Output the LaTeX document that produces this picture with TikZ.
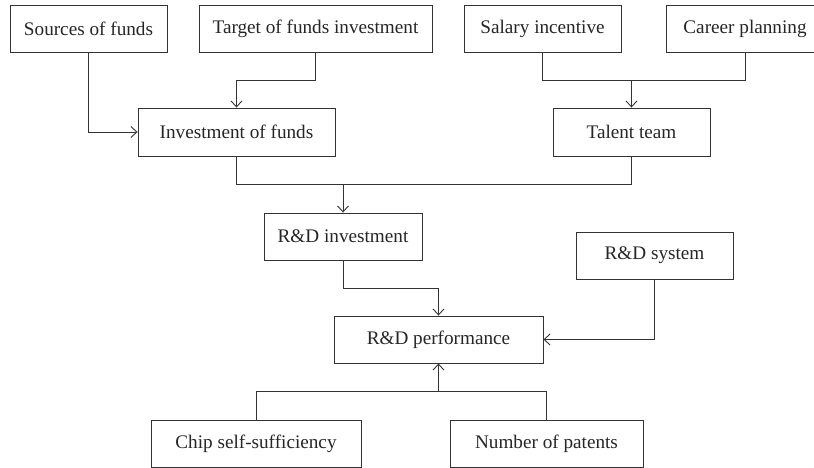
\documentclass[tikz,border=0pt]{standalone}
\usepackage{fontspec}
\setmainfont{Liberation Serif}
\usetikzlibrary{arrows.meta}
\begin{document}
\begin{tikzpicture}[x=1pt,y=-1pt,
  box/.style={draw=black!80, line width=0.9pt, inner sep=0pt, minimum height=47pt,
    font=\fontsize{19.2}{23}\selectfont, text=black!85},
  conn/.style={draw=black!80, line width=0.9pt},
  arr/.style={conn, -{Straight Barb[length=6pt,width=11pt,line width=0.9pt]}}]
\useasboundingbox (0,0) rectangle (814,468);
\fill[white] (0,0) rectangle (814,468);
\node[box, minimum width=157pt] (src) at (88.5,28.5) {Sources of funds};
\node[box, minimum width=233pt] (tgt) at (315.5,28.5) {Target of funds investment};
\node[box, minimum width=157pt] (sal) at (542.5,28.5) {Salary incentive};
\node[box, minimum width=158pt] (car) at (745,28.5) {Career planning};
\node[box, minimum width=197pt, minimum height=48pt] (inv) at (236.5,132) {Investment of funds};
\node[box, minimum width=157pt, minimum height=48pt] (tal) at (631.5,132) {Talent team};
\node[box, minimum width=158pt] (rdi) at (343,236.5) {R\&D investment};
\node[box, minimum width=157pt] (rds) at (654.5,255.5) {R\&D system};
\node[box, minimum width=209pt] (rdp) at (438.5,339.5) {R\&D performance};
\node[box, minimum width=210pt] (chip) at (256,443.5) {Chip self-sufficiency};
\node[box, minimum width=193pt] (pat) at (546.5,443.5) {Number of patents};
% connectors
\draw[arr] (src.south) |- (inv.west);
\draw[arr] (tgt.south) -- ++(0,28) -| (inv.north);
\draw[conn] (sal.south) -- ++(0,28) -| (car.south);
\coordinate (j1) at (tal.north |- 0,80);
\draw[arr] (j1) -- (tal.north);
\draw[conn] (inv.south) -- ++(0,28) -| (tal.south);
\coordinate (j2) at (rdi.north |- 0,184);
\draw[arr] (j2) -- (rdi.north);
\draw[arr] (rdi.south) -- ++(0,28) -| (rdp.north);
\draw[arr] (rds.south) |- (rdp.east);
\draw[conn] (chip.north) -- ++(0,-28) -| (pat.north);
\coordinate (j3) at (rdp.south |- 0,392);
\draw[arr] (j3) -- (rdp.south);
\end{tikzpicture}
\end{document}
